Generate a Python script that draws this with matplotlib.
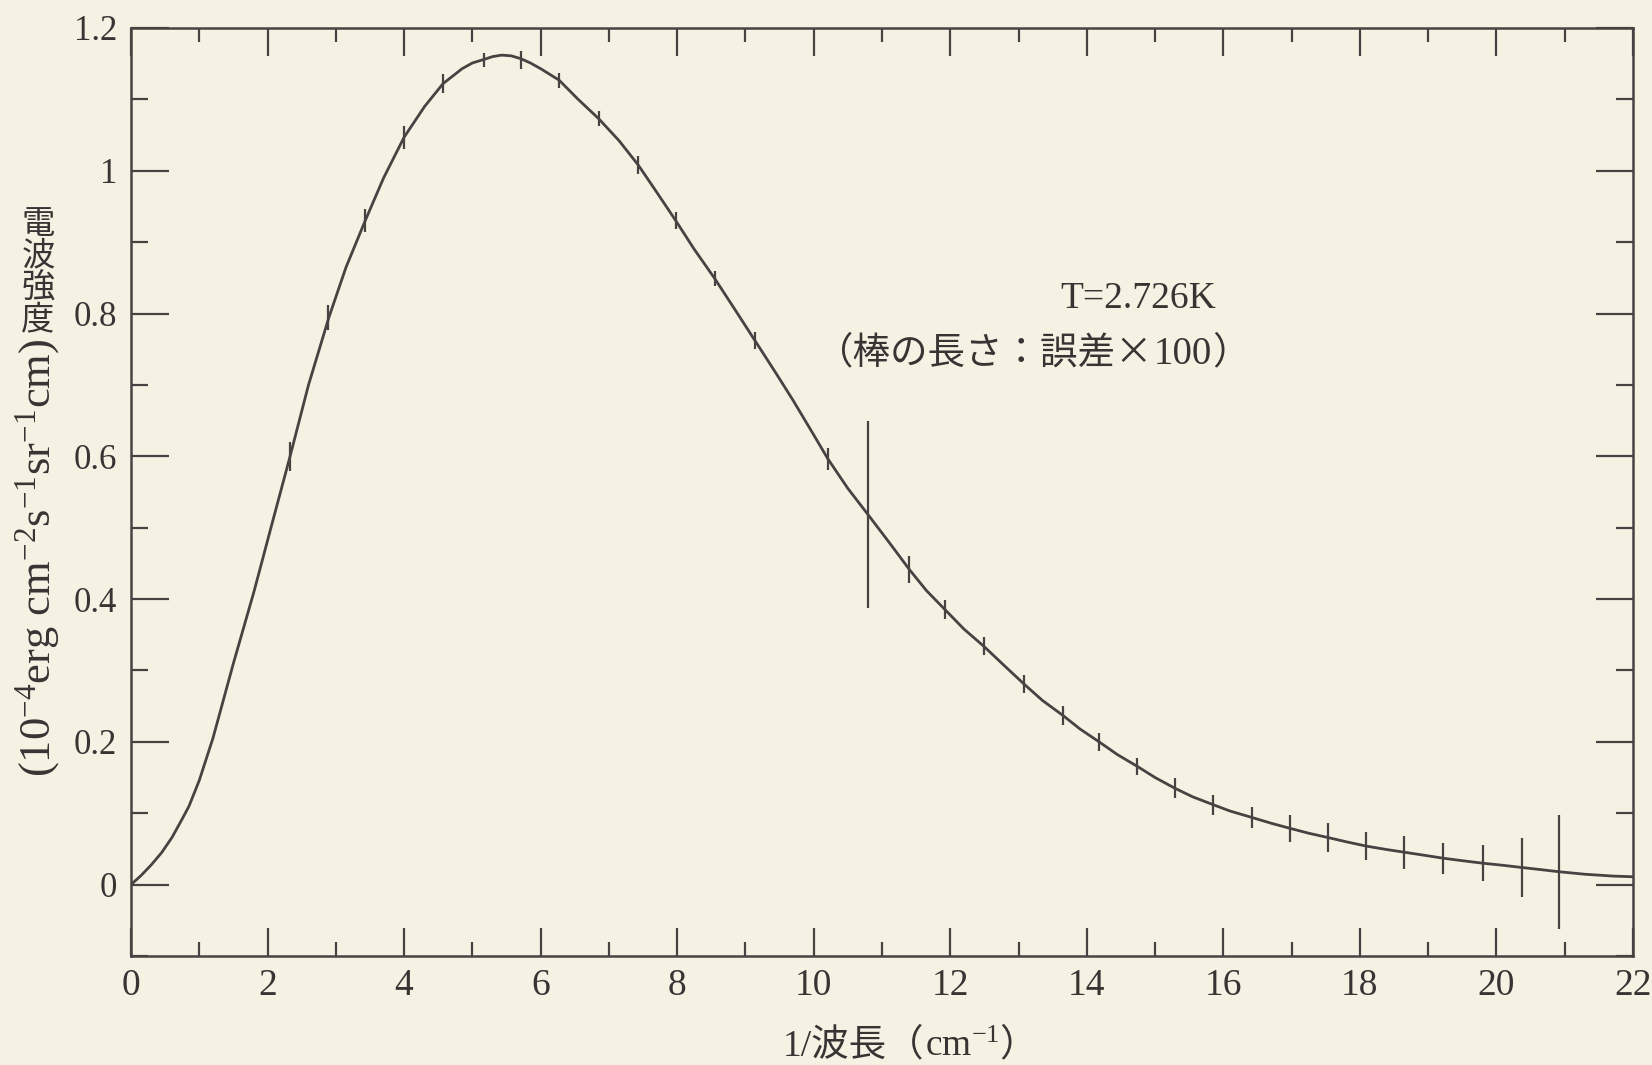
import matplotlib
matplotlib.use("Agg")
import matplotlib.pyplot as plt
from matplotlib.ticker import MultipleLocator, FuncFormatter
from matplotlib.offsetbox import TextArea, HPacker, AnnotationBbox

plt.rcParams['mathtext.fontset'] = 'custom'
plt.rcParams['mathtext.rm'] = 'Liberation Serif'
plt.rcParams['mathtext.it'] = 'Liberation Serif:italic'
plt.rcParams['mathtext.bf'] = 'Liberation Serif:bold'
plt.rcParams['font.family'] = ['Liberation Serif', 'Noto Sans CJK JP']

# ---- data ----
curve_x = [0.0, 0.15, 0.3, 0.45, 0.6, 0.75, 0.85, 1.0, 1.2, 1.5, 1.8, 2.05, 2.33, 2.6,
           2.9, 3.15, 3.43, 3.7, 4.0, 4.3, 4.57, 4.85, 5.0, 5.17, 5.3, 5.43, 5.57, 5.71,
           5.85, 6.0, 6.27, 6.55, 6.85, 7.15, 7.43, 7.7, 7.98, 8.25, 8.55, 8.85, 9.14,
           9.45, 9.7, 10.0, 10.21, 10.5, 10.79, 11.1, 11.4, 11.65, 11.92, 12.2, 12.49,
           12.8, 13.08, 13.35, 13.65, 13.9, 14.18, 14.45, 14.74, 15.0, 15.29, 15.55,
           15.85, 16.1, 16.42, 16.7, 16.97, 17.25, 17.53, 17.8, 18.09, 18.4, 18.65,
           18.95, 19.22, 19.5, 19.8, 20.1, 20.37, 20.65, 20.92, 21.3, 21.7, 22.0]
curve_y = [0.0, 0.013, 0.028, 0.045, 0.066, 0.092, 0.11, 0.146, 0.205, 0.31, 0.41,
           0.50, 0.60, 0.70, 0.795, 0.865, 0.93, 0.99, 1.047, 1.09, 1.122, 1.143,
           1.151, 1.156, 1.160, 1.162, 1.161, 1.157, 1.151, 1.143, 1.127, 1.10, 1.073,
           1.042, 1.008, 0.97, 0.93, 0.89, 0.849, 0.805, 0.762, 0.716, 0.678, 0.63,
           0.596, 0.555, 0.519, 0.48, 0.4415, 0.412, 0.3855, 0.358, 0.334, 0.306,
           0.281, 0.258, 0.237, 0.218, 0.200, 0.182, 0.1656, 0.150, 0.135, 0.123,
           0.112, 0.103, 0.094, 0.086, 0.079, 0.072, 0.066, 0.060, 0.054, 0.049,
           0.0454, 0.041, 0.037, 0.0335, 0.030, 0.027, 0.024, 0.021, 0.018, 0.0145,
           0.012, 0.011]

data_x = [2.33, 2.89, 3.43, 4.00, 4.57, 5.17, 5.71, 6.27, 6.85, 7.43, 7.98, 8.55,
          9.14, 10.21, 10.79, 11.40, 11.92, 12.49, 13.08, 13.65, 14.18, 14.74,
          15.29, 15.85, 16.42, 16.97, 17.53, 18.09, 18.65, 19.22, 19.80, 20.37, 20.92]
data_y = [0.60, 0.795, 0.93, 1.047, 1.122, 1.155, 1.155, 1.127, 1.073, 1.008, 0.93,
          0.849, 0.762, 0.596, 0.519, 0.4415, 0.3855, 0.334, 0.281, 0.237, 0.200,
          0.1656, 0.135, 0.112, 0.094, 0.079, 0.066, 0.054, 0.0454, 0.037, 0.030,
          0.024, 0.018]
data_err = [0.02, 0.0175, 0.016, 0.016, 0.013, 0.01, 0.013, 0.0105, 0.0105, 0.012,
            0.012, 0.0105, 0.012, 0.015, 0.131, 0.019, 0.013, 0.013, 0.013, 0.013,
            0.013, 0.0117, 0.014, 0.014, 0.015, 0.019, 0.020, 0.020, 0.023, 0.0215,
            0.025, 0.042, 0.080]

x_ticks = [0, 2, 4, 6, 8, 10, 12, 14, 16, 18, 20, 22]
y_ticks = [0, 0.2, 0.4, 0.6, 0.8, 1.0, 1.2]

ylabel_units = r"(10$^{-4}$erg cm$^{-2}$s$^{-1}$sr$^{-1}$cm)"
ylabel_jp = "電\n波\n強\n度"
annot_T = "T=2.726K"
note_parts = ["（棒の長さ：誤差×", "100", "）"]
xlabel_parts = ["1/波長（", r"cm$^{-1}$", "）"]

# ---- style ----
ink = '#474343'
txt = '#383434'
bg = '#F5F2E4'
serif = ['Liberation Serif', 'Noto Sans CJK JP']
cjk = ['Noto Sans CJK JP']

fig = plt.figure(figsize=(16.52, 10.65), dpi=100, facecolor=bg)
ax = fig.add_axes([131/1652, 1 - 956/1065, (1633-131)/1652, (956-28)/1065])
ax.set_facecolor(bg)

ax.plot(curve_x, curve_y, color=ink, lw=2.0, solid_joinstyle='round')
ax.errorbar(data_x, data_y, yerr=data_err, fmt='none', ecolor=ink, elinewidth=1.6, capsize=0)

ax.set_xlim(0, 22)
ax.set_ylim(-0.1, 1.2)
ax.set_xticks(x_ticks)
ax.xaxis.set_minor_locator(MultipleLocator(1))
ax.set_yticks(y_ticks)
ax.yaxis.set_minor_locator(MultipleLocator(0.1))
ax.yaxis.set_major_formatter(FuncFormatter(lambda v, p: f"{v:g}"))

for s in ax.spines.values():
    s.set_color(ink)
    s.set_linewidth(1.8)

ax.tick_params(axis='both', which='both', direction='in', colors=ink,
               top=True, right=True, width=1.6, labelcolor=txt)
ax.tick_params(axis='x', which='major', length=20, labelsize=27, pad=9)
ax.tick_params(axis='x', which='minor', length=10)
ax.tick_params(axis='y', which='major', length=27, labelsize=25, pad=10)
ax.tick_params(axis='y', which='minor', length=12)

# y label: rotated unit part and upright stacked kanji
fig.text(38/1652, 1 - 558/1065, ylabel_units, rotation=90, ha='center', va='center',
         fontsize=32, color=txt, family='Liberation Serif')
fig.text(38/1652, 1 - 272/1065, ylabel_jp, ha='center', va='center',
         fontsize=24, color=txt, family=cjk, linespacing=0.88)

# annotation
ax.text(1138/1652, 1 - 299/1065, annot_T, transform=fig.transFigure, ha='center',
        va='center', fontsize=27, color=txt, family=serif)
note = HPacker(children=[TextArea(note_parts[0], textprops=dict(fontsize=27, color=txt, family=cjk)),
                         TextArea(note_parts[1], textprops=dict(fontsize=28, color=txt, family='Liberation Serif')),
                         TextArea(note_parts[2], textprops=dict(fontsize=27, color=txt, family=cjk))],
               align='baseline', pad=0, sep=0)
fig.add_artist(AnnotationBbox(note, (1033/1652, 1 - 353/1065), xycoords='figure fraction',
                              frameon=False, box_alignment=(0.5, 0.5)))

# x label built from pieces
parts = [TextArea(xlabel_parts[0], textprops=dict(fontsize=27, color=txt, family=serif)),
         TextArea(xlabel_parts[1], textprops=dict(fontsize=27, color=txt, family='Liberation Serif')),
         TextArea(xlabel_parts[2], textprops=dict(fontsize=27, color=txt, family=serif))]
box = HPacker(children=parts, align='baseline', pad=0, sep=0)
fig.add_artist(AnnotationBbox(box, (910/1652, 1 - 1046/1065), xycoords='figure fraction',
                              frameon=False, box_alignment=(0.5, 0.5)))

fig.savefig('out.png', dpi=100, facecolor=bg)
